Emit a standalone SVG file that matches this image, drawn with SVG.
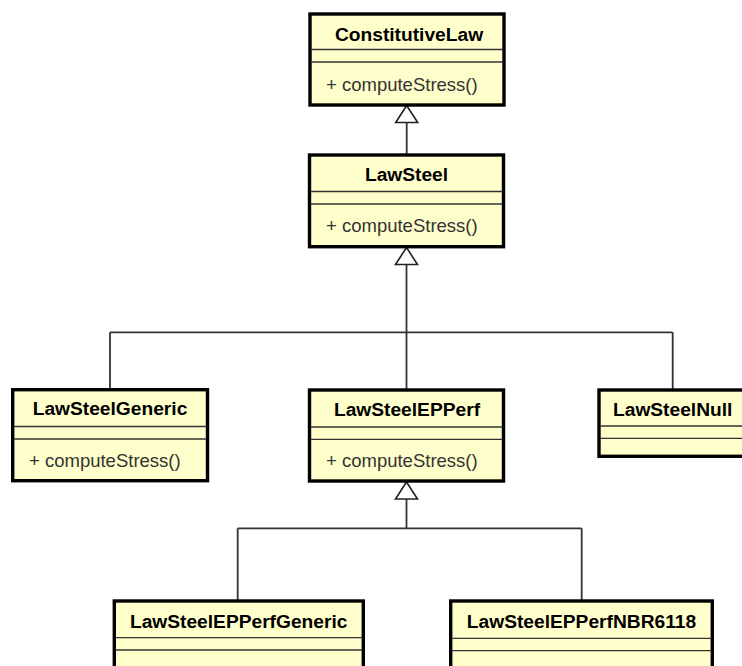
<svg xmlns="http://www.w3.org/2000/svg" width="742" height="666" viewBox="0 0 742 666">
  <style>
    .box { fill: #FFFFCC; stroke: #000000; stroke-width: 3.4; }
    .sep { stroke: #333333; stroke-width: 1.3; fill: none; }
    .name { font-family: "Liberation Sans", Arial, sans-serif; font-size: 19.2px; font-weight: bold; fill: #000000; text-anchor: middle; }
    .op { font-family: "Liberation Sans", Arial, sans-serif; font-size: 18.5px; fill: #333333; }
    .edge { stroke: #333333; stroke-width: 1.8; fill: none; }
    .head { fill: #FFFFFF; stroke: #222222; stroke-width: 1.6; stroke-linejoin: miter; }
  </style>

  <!-- generalization connectors -->
  <g id="connectors">
    <!-- LawSteel -> ConstitutiveLaw -->
    <path class="edge" d="M406.7 122 V155"/>
    <polygon class="head" points="406.7,105.5 395.7,122.5 417.7,122.5"/>
    <!-- subclasses -> LawSteel -->
    <path class="edge" d="M406.5 264.5 V390 M110 332.3 H672.7 M110 332.3 V389.7 M672.7 332.3 V390"/>
    <polygon class="head" points="406.5,247.5 395.5,264.5 417.5,264.5"/>
    <!-- subclasses -> LawSteelEPPerf -->
    <path class="edge" d="M406.5 499 V528.3 M237.7 528.3 H581.7 M237.7 528.3 V601 M581.7 528.3 V601"/>
    <polygon class="head" points="406.5,482 395.5,499 417.5,499"/>
  </g>

  <g id="ConstitutiveLaw">
    <rect class="box" x="310" y="14" width="194" height="91"/>
    <line class="sep" x1="311" y1="49.5" x2="503" y2="49.5"/>
    <line class="sep" x1="311" y1="62" x2="503" y2="62"/>
    <text class="name" x="409" y="40.5">ConstitutiveLaw</text>
    <text class="op" x="326" y="90.7">+ computeStress()</text>
  </g>

  <g id="LawSteel">
    <rect class="box" x="309.5" y="155" width="194" height="91.7"/>
    <line class="sep" x1="310.5" y1="191.5" x2="502.5" y2="191.5"/>
    <line class="sep" x1="310.5" y1="204" x2="502.5" y2="204"/>
    <text class="name" x="406.5" y="180.7">LawSteel</text>
    <text class="op" x="326" y="231.7">+ computeStress()</text>
  </g>

  <g id="LawSteelGeneric">
    <rect class="box" x="12.7" y="389.7" width="194.8" height="91"/>
    <line class="sep" x1="13.7" y1="426.5" x2="206.5" y2="426.5"/>
    <line class="sep" x1="13.7" y1="439" x2="206.5" y2="439"/>
    <text class="name" x="110" y="415.3">LawSteelGeneric</text>
    <text class="op" x="29" y="466.5">+ computeStress()</text>
  </g>

  <g id="LawSteelEPPerf">
    <rect class="box" x="309.5" y="390" width="194" height="91"/>
    <line class="sep" x1="310.5" y1="427" x2="502.5" y2="427"/>
    <line class="sep" x1="310.5" y1="439.3" x2="502.5" y2="439.3"/>
    <text class="name" x="407" y="415.5">LawSteelEPPerf</text>
    <text class="op" x="326" y="466.5">+ computeStress()</text>
  </g>

  <g id="LawSteelNull">
    <rect class="box" x="599" y="390" width="147.4" height="66.3"/>
    <line class="sep" x1="600" y1="426" x2="745" y2="426"/>
    <line class="sep" x1="600" y1="438.3" x2="745" y2="438.3"/>
    <text class="name" x="672.7" y="415.5">LawSteelNull</text>
  </g>

  <g id="LawSteelEPPerfGeneric">
    <rect class="box" x="114.3" y="601" width="249" height="80"/>
    <line class="sep" x1="115.3" y1="637.7" x2="362.3" y2="637.7"/>
    <line class="sep" x1="115.3" y1="650" x2="362.3" y2="650"/>
    <text class="name" x="238.7" y="627.5">LawSteelEPPerfGeneric</text>
  </g>

  <g id="LawSteelEPPerfNBR6118">
    <rect class="box" x="450.7" y="601" width="261.6" height="80"/>
    <line class="sep" x1="451.7" y1="638.3" x2="711.3" y2="638.3"/>
    <line class="sep" x1="451.7" y1="650.7" x2="711.3" y2="650.7"/>
    <text class="name" x="581.5" y="627.5">LawSteelEPPerfNBR6118</text>
  </g>
</svg>
